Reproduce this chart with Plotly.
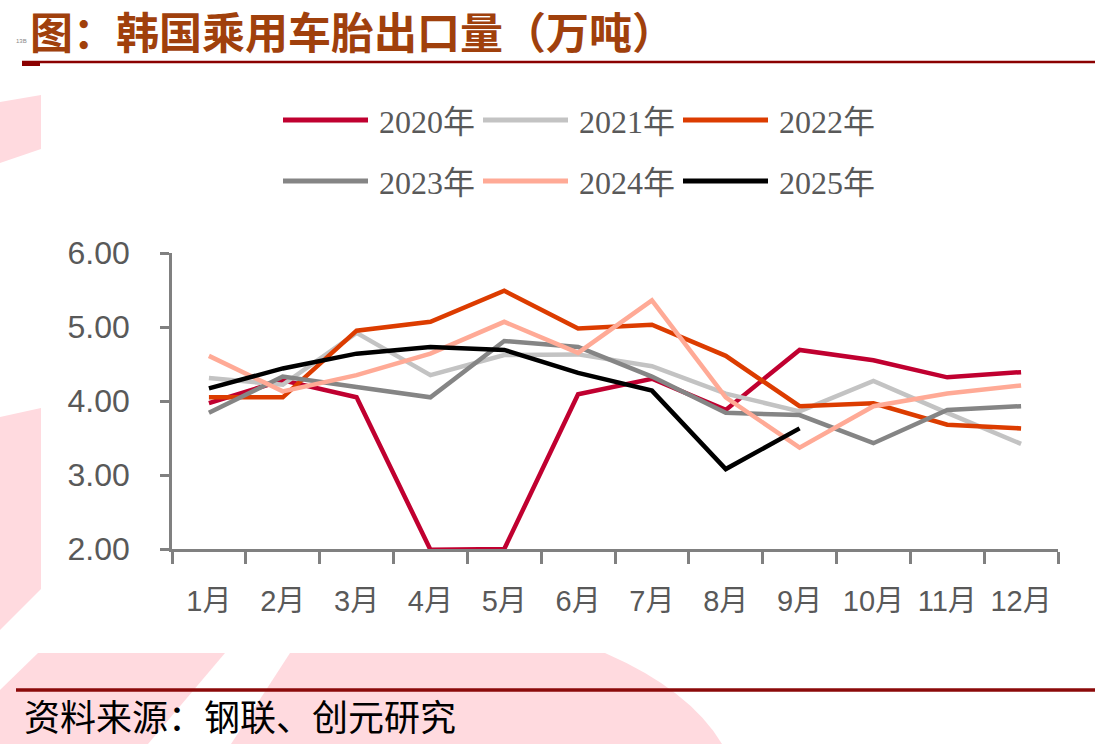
import plotly.graph_objects as go

months = ["1月", "2月", "3月", "4月", "5月", "6月", "7月", "8月", "9月", "10月", "11月", "12月"]
v2020 = [3.97, 4.28, 4.05, 1.99, 2.00, 4.09, 4.30, 3.88, 4.69, 4.55, 4.32, 4.39]
v2021 = [4.31, 4.22, 4.92, 4.35, 4.62, 4.63, 4.47, 4.10, 3.86, 4.27, 3.84, 3.42]
v2022 = [4.05, 4.05, 4.95, 5.07, 5.49, 4.98, 5.03, 4.61, 3.93, 3.97, 3.68, 3.63]
v2023 = [3.84, 4.33, 4.19, 4.05, 4.81, 4.73, 4.33, 3.84, 3.81, 3.43, 3.88, 3.93]
v2024 = [4.61, 4.13, 4.35, 4.64, 5.07, 4.65, 5.36, 4.05, 3.37, 3.93, 4.10, 4.21]
v2025 = [4.17, 4.44, 4.64, 4.73, 4.69, 4.38, 4.14, 3.08, 3.63]

series_names = ["2020年", "2021年", "2022年", "2023年", "2024年", "2025年"]
series_values = [v2020, v2021, v2022, v2023, v2024, v2025]
series_colors = ["#C00030", "#C3C3C3", "#DC3C00", "#858585", "#FFAA96", "#000000"]

W, H = 1095, 744
L, R, T, B = 172, 37, 253, 195
PW, PH = W - L - R, H - T - B


def px(x):
    return (x - L) / PW


def py(y):
    return (H - B - y) / PH


fig = go.Figure()
for name, vals, col in zip(series_names, series_values, series_colors):
    fig.add_trace(go.Scatter(
        x=months[:len(vals)], y=vals, name=name, mode="lines",
        line=dict(color=col, width=4.5), showlegend=False,
    ))

shapes = []
annotations = []
pink = "#FFDADF"


def poly(points):
    return "M " + " L ".join(f"{px(a):.5f},{py(b):.5f}" for a, b in points) + " Z"


# background pink watermark shapes
shapes.append(dict(type="path", xref="paper", yref="paper", layer="below", line_width=0,
                   fillcolor=pink, path=poly([(0, 102), (41, 95), (41, 149), (0, 163)])))
shapes.append(dict(type="path", xref="paper", yref="paper", layer="below", line_width=0,
                   fillcolor=pink, path=poly([(0, 417), (41, 408), (41, 589), (0, 630)])))
shapes.append(dict(type="path", xref="paper", yref="paper", layer="below", line_width=0,
                   fillcolor=pink, path=poly([(38, 653), (225, 653), (148, 744), (0, 744), (0, 690)])))
pathB = (f"M {px(290):.5f},{py(653):.5f} L {px(605):.5f},{py(653):.5f} "
         f"Q {px(690):.5f},{py(690):.5f} {px(722):.5f},{py(744):.5f} "
         f"L {px(231):.5f},{py(744):.5f} Z")
shapes.append(dict(type="path", xref="paper", yref="paper", layer="below", line_width=0,
                   fillcolor=pink, path=pathB))

# header / footer rules
shapes.append(dict(type="line", xref="paper", yref="paper", x0=px(22), x1=px(1095), y0=py(62), y1=py(62),
                   line=dict(color="#8B0000", width=2.5)))
shapes.append(dict(type="rect", xref="paper", yref="paper", x0=px(22), x1=px(40), y0=py(62), y1=py(66),
                   line_width=0, fillcolor="#8B0000"))
shapes.append(dict(type="line", xref="paper", yref="paper", x0=px(16), x1=px(1095), y0=py(690), y1=py(690),
                   line=dict(color="#8B0A0A", width=3.5)))

# manual legend
leg_pos = [(283, 120), (483, 120), (683, 120), (283, 181), (483, 181), (683, 181)]
for (lx, ly), name, col in zip(leg_pos, series_names, series_colors):
    shapes.append(dict(type="line", xref="paper", yref="paper", x0=px(lx), x1=px(lx + 85),
                       y0=py(ly), y1=py(ly), line=dict(color=col, width=5)))
    annotations.append(dict(xref="paper", yref="paper", x=px(lx + 94), y=py(ly + 2), xanchor="left",
                            yanchor="middle", showarrow=False, text=name,
                            font=dict(family="Liberation Serif, Noto Sans CJK SC", size=32, color="#595959")))

# title
annotations.append(dict(xref="paper", yref="paper", x=px(29), y=py(30), xanchor="left", yanchor="middle",
                        showarrow=False, text="<b>图：韩国乘用车胎出口量（万吨）</b>", borderpad=0,
                        font=dict(family="Noto Sans CJK SC", size=43, color="#A0400C")))
annotations.append(dict(xref="paper", yref="paper", x=px(17), y=py(41), xanchor="right", yanchor="middle",
                        showarrow=False, text="13B", font=dict(family="Liberation Sans", size=6, color="#888888"),
                        xshift=12))
# source
annotations.append(dict(xref="paper", yref="paper", x=px(22), y=py(715), xanchor="left", yanchor="middle",
                        showarrow=False, text="资料来源：钢联、创元研究",
                        font=dict(family="Noto Sans CJK SC", size=36, color="#000000")))

fig.update_layout(
    width=W, height=H,
    margin=dict(l=L, r=R, t=T, b=B, pad=0),
    paper_bgcolor="white", plot_bgcolor="rgba(0,0,0,0)",
    shapes=shapes, annotations=annotations,
    showlegend=False,
)
fig.update_xaxes(
    type="category", categoryorder="array", categoryarray=months,
    range=[-0.5, 11.5], showgrid=False, zeroline=False,
    showline=True, linecolor="#808080", linewidth=2.5,
    ticks="outside", tickson="boundaries", ticklen=12, tickwidth=2.5, tickcolor="#808080",
    ticklabelstandoff=24, tickangle=0,
    tickfont=dict(family="Liberation Sans, Arial, Noto Sans CJK SC", size=29, color="#595959"),
)
fig.update_yaxes(
    range=[2, 6], dtick=1, tick0=2, tickformat=".2f", showgrid=False, zeroline=False,
    showline=True, linecolor="#808080", linewidth=2.5,
    ticks="outside", ticklen=9, tickwidth=2.5, tickcolor="#808080",
    ticklabelstandoff=24,
    tickfont=dict(family="Liberation Sans, Arial", size=32, color="#595959"),
)

fig.write_html("out.html")
